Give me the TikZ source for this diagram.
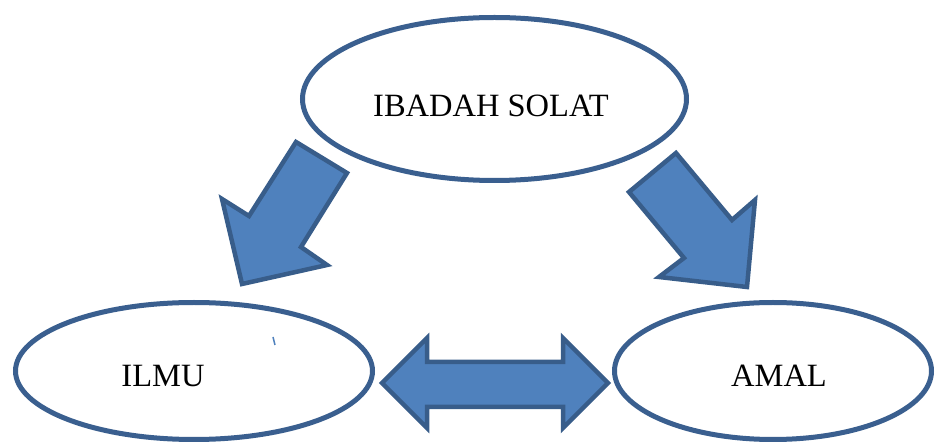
\documentclass[tikz,border=0pt]{standalone}
\usepackage{fontspec}
\setmainfont{Liberation Serif}
\usetikzlibrary{shapes.geometric}
\definecolor{ovalline}{HTML}{3A5F8F}
\definecolor{arrowfill}{HTML}{4F81BD}
\definecolor{arrowline}{HTML}{385D8A}

\begin{document}
\begin{tikzpicture}[
		x=1pt, y=-1pt,
		every node/.style={font=\fontsize{32.5}{38}\selectfont, inner sep=0pt},
		oval/.style={ellipse, draw=ovalline, line width=5pt, fill=white},
		blockarrow/.style={draw=arrowline, fill=arrowfill, line width=4.5pt}
	]
  \useasboundingbox (0,0) rectangle (935,443);
  % the three ovals
  \node (solat) [oval, minimum width=384pt, minimum height=163pt] at (494.5,99) {};
  \node (ilmu) [oval, minimum width=357pt, minimum height=137pt] at (194,371) {};
  \node (amal) [oval, minimum width=317pt, minimum height=137pt] at (773,371) {};
  \node (solat_text) [anchor=base] at (491,117) {IBADAH SOLAT};
  \node (ilmu_text) [anchor=base] at (163,387) {ILMU};
  \node (amal_text) [anchor=base] at (779,387) {AMAL};
  % block arrows
  \draw[blockarrow] (296,142) -- (347,173) -- (301,247) -- (327,265)
    -- (242,284) -- (222,199) -- (249,216) -- cycle;
  \draw[blockarrow] (676,153) -- (732,220) -- (755,200) -- (747,287)
    -- (659,277) -- (684,258) -- (629,192) -- cycle;
  \draw[blockarrow] (382,383) -- (427,338) -- (427,362) -- (563,362) -- (563,338)
    -- (608,383) -- (563,428) -- (563,407) -- (427,407) -- (427,428) -- cycle;
  \draw[arrowfill, line width=1.5pt] (273,337) -- (275,345);
\end{tikzpicture}
\end{document}
